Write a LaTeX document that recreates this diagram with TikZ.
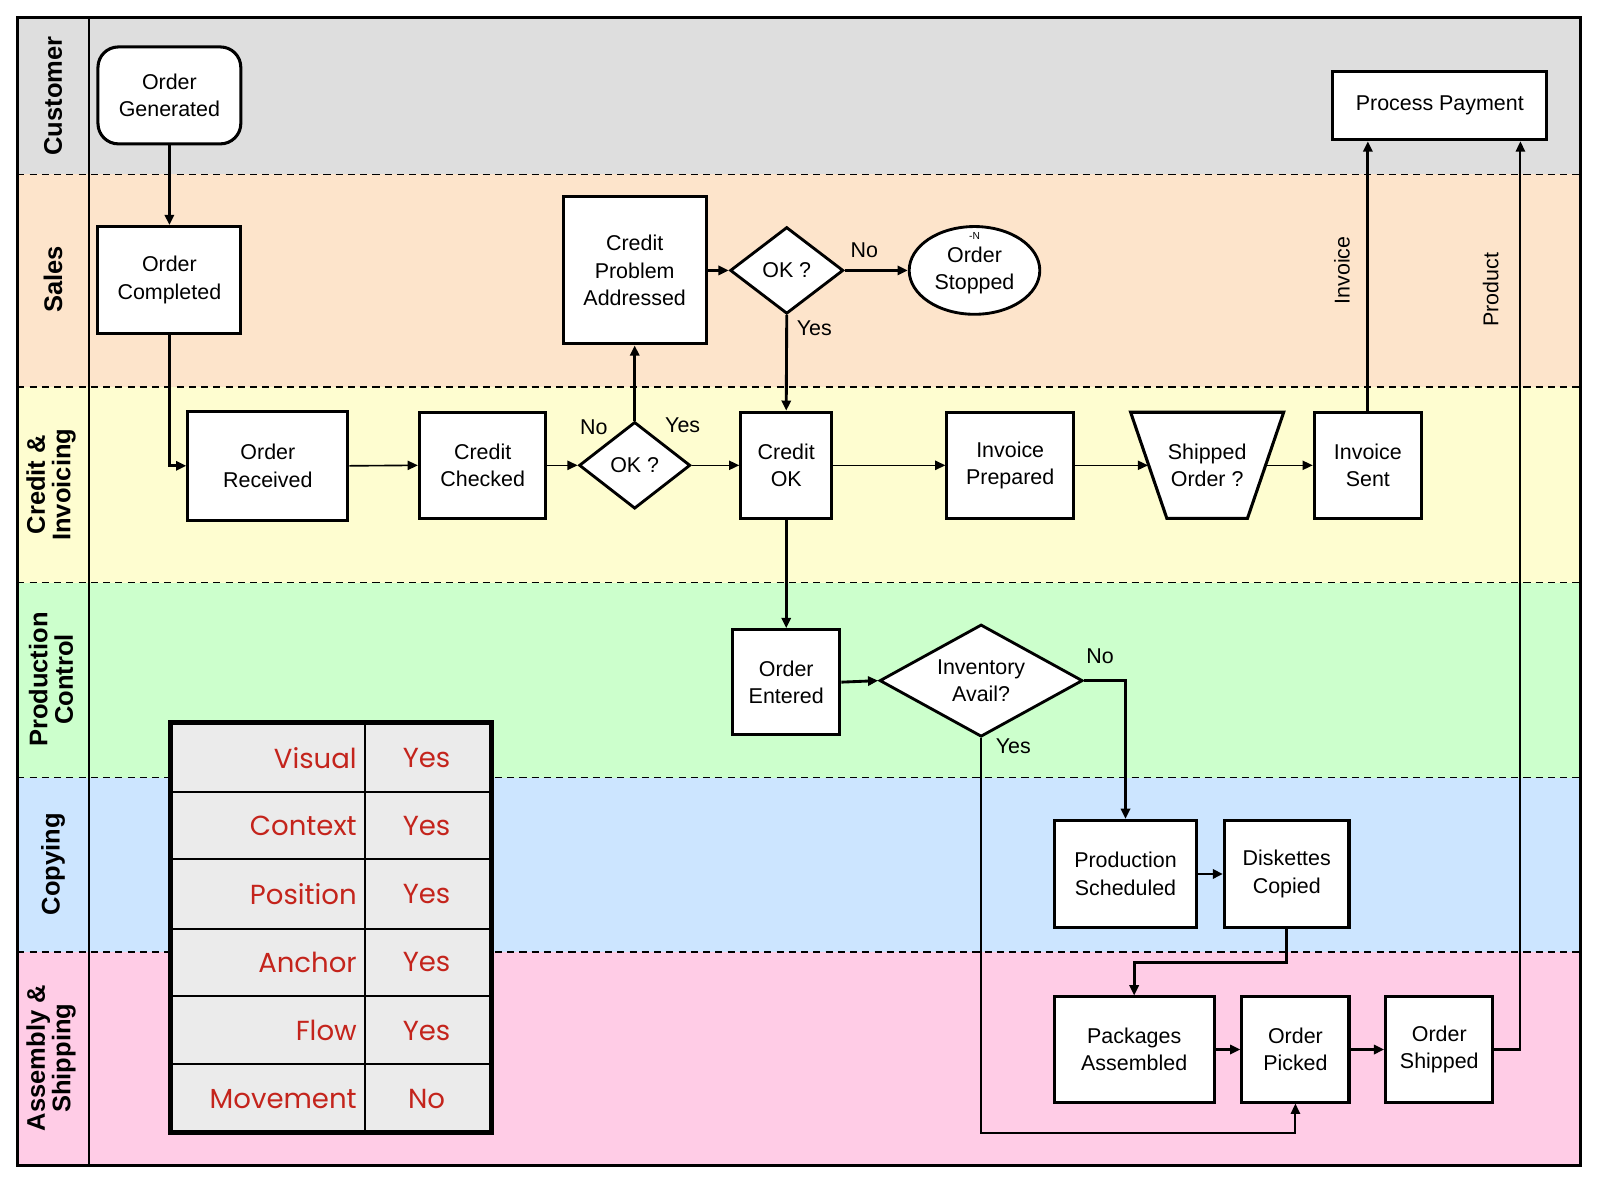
\documentclass[tikz,border=0pt]{standalone}
\usepackage{fontspec}
\setmainfont{Liberation Sans}
\newfontfamily\tabfont{Poppins}
\usetikzlibrary{shapes.geometric,arrows.meta,calc}
\definecolor{custc}{HTML}{DEDEDE}
\definecolor{salesc}{HTML}{FDE4CB}
\definecolor{credc}{HTML}{FEFDD0}
\definecolor{prodc}{HTML}{CCFFCC}
\definecolor{copyc}{HTML}{CCE5FF}
\definecolor{asmc}{HTML}{FFCCE6}
\definecolor{tabbg}{HTML}{EBEBEB}
\definecolor{tabred}{HTML}{C4241C}
\begin{document}
\begin{tikzpicture}[x=0.5pt,y=-0.5pt,
  every node/.style={font=\fontsize{10.5}{13.5}\selectfont, align=center, inner sep=0pt},
  box/.style={draw, line width=1.5pt, fill=white, rectangle},
  sz/.style 2 args={minimum width=#1*0.5pt, minimum height=#2*0.5pt},
  dia/.style={draw, line width=1.4pt, fill=white, diamond, aspect=1.8},
  conn/.style={line width=1.4pt, -{Triangle[length=5pt,width=4.5pt]}},
  thinconn/.style={line width=0.8pt, -{Triangle[length=5pt,width=4.5pt]}},
  midconn/.style={line width=1pt, -{Triangle[length=5pt,width=4.5pt]}},
  lanelbl/.style={rotate=90, font=\bfseries\fontsize{12.5}{12.5}\selectfont},
  lbl/.style={font=\fontsize{10.5}{12}\selectfont},
  lanesep/.style={dash pattern=on 3.5pt off 2.5pt, line width=0.8pt},
  tabtxt/.style={font=\tabfont\fontsize{13.5}{14}\selectfont, text=tabred}
]
\useasboundingbox (0,0) rectangle (1568,1157.4);
% lanes
\fill[custc] (17,17) rectangle (1549,171);
\fill[salesc] (17,171) rectangle (1549,379);
\fill[credc] (17,379) rectangle (1549,571);
\fill[prodc] (17,571) rectangle (1549,762);
\fill[copyc] (17,762) rectangle (1549,933);
\fill[asmc] (17,933) rectangle (1549,1142);
\foreach \yy in {171,379,571,762,933} \draw[lanesep] (17,\yy) -- (1549,\yy);
\draw[line width=0.8pt] (87,17) -- (87,1142);
\draw[line width=1.2pt] (17,17) rectangle (1549,1142);
% lane labels
\node[lanelbl] (lcust) at (52,94) {Customer};
\node[lanelbl] (lsales) at (52,274) {Sales};
\node[lanelbl] (lcred) at (50,475) {Credit \&\\Invoicing};
\node[lanelbl] (lprod) at (50,666) {Production\\Control};
\node[lanelbl] (lcopy) at (52,847) {Copying};
\node[lanelbl] (lasm) at (50,1037) {Assembly \&\\Shipping};
% nodes
\node[box, rounded corners=10pt, sz={140}{95}] (og) at (166,93.5) {Order\\Generated};
\node[box, sz={140}{105}] (oc) at (166,274.5) {Order\\Completed};
\node[box, sz={157}{107}] (or) at (262.5,456.5) {Order\\Received};
\node[box, sz={124}{104}] (cc) at (473,456) {Credit\\Checked};
\node[dia, sz={109}{85}] (ok1) at (622,456) {OK ?};
\node[box, sz={140}{144}] (cpa) at (622,265) {Credit\\Problem\\Addressed};
\node[dia, sz={111}{85}] (ok2) at (771,265) {OK ?};
\node[draw, ellipse, line width=1.4pt, fill=white, sz={128}{86}] (ost) at (955,265) {Order\\Stopped};
\node[font=\fontsize{5}{5}\selectfont] (tn) at (955,231) {-N};
\node[box, sz={89}{104}] (cok) at (770.5,456) {Credit\\OK};
\node[box, sz={124}{104}] (ip) at (990,456) {Invoice\\Prepared};
\coordinate (soc) at (1183,456);
\draw[fill=white, line width=1.5pt] ($(soc)+(-75,-52)$) -- ($(soc)+(75,-52)$) -- ($(soc)+(39.5,52)$) -- ($(soc)+(-39.5,52)$) -- cycle;
\node[sz={115}{104}] (so) at (soc) {Shipped\\Order ?};
\node[box, sz={105}{104}] (is) at (1340.5,456) {Invoice\\Sent};
\node[box, sz={210}{67}] (pp) at (1411,103.5) {Process Payment};
\node[box, sz={105}{103}] (oe) at (770.5,668.5) {Order\\Entered};
\node[dia, sz={199}{110}] (inv) at (961.5,667) {Inventory\\Avail?};
\node[box, sz={140}{105}] (ps) at (1103,856.5) {Production\\Scheduled};
\node[box, sz={122}{105}] (dc) at (1261,856.5) {Diskettes\\Copied};
\node[box, sz={157}{103}] (pa) at (1111.5,1028.5) {Packages\\Assembled};
\node[box, sz={105}{103}] (opk) at (1269.5,1028.5) {Order\\Picked};
\node[box, sz={105}{103}] (osh) at (1410.5,1028.5) {Order\\Shipped};
% labels
\node[lbl] (n1) at (582,419) {No};
\node[lbl] (y1) at (669,417) {Yes};
\node[lbl] (n2) at (847,245) {No};
\node[lbl] (y2) at (798,322) {Yes};
\node[lbl] (n3) at (1078,643) {No};
\node[lbl] (y3) at (993,731) {Yes};
\node[lbl, rotate=90] (tinv) at (1315,265) {Invoice};
\node[lbl, rotate=90] (tprod) at (1461,284) {Product};
% connectors
\coordinate (ybot) at (961.5,1110);
\coordinate (dcbend) at (1261,943);
\coordinate (prc) at (1490,1028.5);
\draw[conn] (og.south) -- (oc.north);
\draw[conn] (oc.south) |- (or.west);
\draw[thinconn] (or.east) -- (cc.west);
\draw[thinconn] (cc.east) -- (ok1.west);
\draw[conn] (ok1.north) -- (cpa.south);
\draw[thinconn] (ok1.east) -- (cok.west);
\draw[conn] (cpa.east) -- (ok2.west);
\draw[conn] (ok2.east) -- (ost.west);
\draw[conn] (ok2.south) -- (cok.north);
\draw[thinconn] (cok.east) -- (ip.west);
\draw[thinconn] (ip.east) -- (so.west);
\draw[thinconn] (so.east) -- (is.west);
\draw[conn] (is.north) -- (is.north |- pp.south);
\draw[conn] (cok.south) -- (oe.north);
\draw[conn] (oe.east) -- (inv.west);
\draw[conn] (inv.east) -| (ps.north);
\draw[midconn] (inv.south) -- (ybot) -| (opk.south);
\draw[conn] (ps.east) -- (dc.west);
\draw[conn] (dc.south) -- (dcbend) -| (pa.north);
\draw[conn] (pa.east) -- (opk.west);
\draw[conn] (opk.east) -- (osh.west);
\draw[midconn] (osh.east) -- (prc) -- (prc |- pp.south);
% table
\fill[tabbg] (167,708) rectangle (482,1110);
\foreach \yy in {776,842,910,976,1043} \draw[line width=0.9pt] (167,\yy) -- (482,\yy);
\draw[line width=0.9pt] (358,708) -- (358,1110);
\draw[line width=2.6pt] (167,708) rectangle (482,1110);
\node[tabtxt, anchor=east] (t1) at (350,743) {Visual};
\node[tabtxt] (t2) at (418,743) {Yes};
\node[tabtxt, anchor=east] (t3) at (350,809) {Context};
\node[tabtxt] (t4) at (418,809) {Yes};
\node[tabtxt, anchor=east] (t5) at (350,876) {Position};
\node[tabtxt] (t6) at (418,876) {Yes};
\node[tabtxt, anchor=east] (t7) at (350,943) {Anchor};
\node[tabtxt] (t8) at (418,943) {Yes};
\node[tabtxt, anchor=east] (t9) at (350,1010) {Flow};
\node[tabtxt] (t10) at (418,1010) {Yes};
\node[tabtxt, anchor=east] (t11) at (350,1077) {Movement};
\node[tabtxt] (t12) at (418,1077) {No};
\end{tikzpicture}
\end{document}
